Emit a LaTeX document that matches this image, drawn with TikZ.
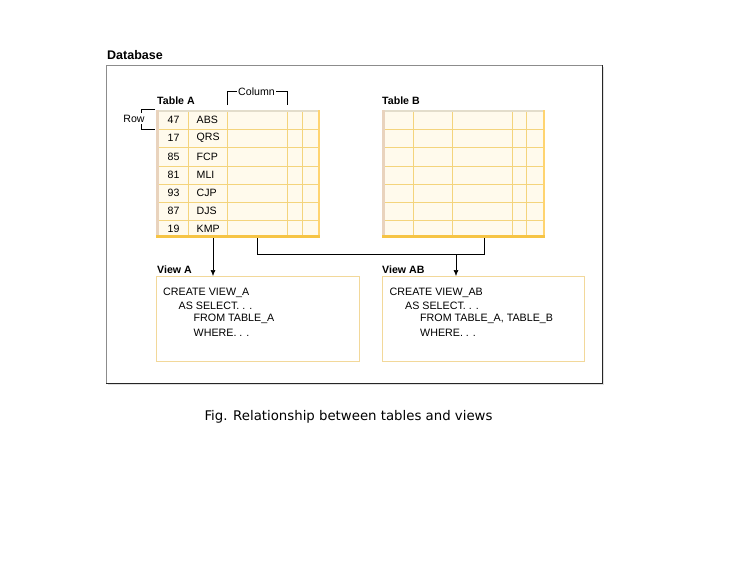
\documentclass[tikz,border=0pt]{standalone}
\usepackage{fontspec}
\setmainfont{Liberation Sans}
\newfontfamily\capfont{DejaVu Sans}
\usetikzlibrary{arrows.meta}
\definecolor{cream}{HTML}{FFFAEC}
\definecolor{gridc}{HTML}{F4D47C}
\definecolor{botc}{HTML}{F6C444}
\definecolor{rightc}{HTML}{FFD470}
\definecolor{leftc}{HTML}{E9D3BD}
\definecolor{topc}{HTML}{E3DDCB}
\definecolor{viewc}{HTML}{F2D89A}
\tikzset{
  lbl/.style={font=\fontsize{10.6}{12}\selectfont, inner sep=0pt},
  blbl/.style={font=\fontsize{10.6}{12}\selectfont\bfseries, inner sep=0pt, anchor=west},
  code/.style={font=\fontsize{10.7}{12}\selectfont, inner sep=0pt, anchor=west},
  gline/.style={gridc, line width=0.8pt},
  viewbox/.style={draw=viewc, line width=0.8pt, fill=white, anchor=north west, inner sep=0pt},
  tblbox/.style={anchor=north west, inner sep=0pt, minimum width=#1, minimum height=128},
  arr/.style={-{Latex[length=6pt,width=5pt]}, black, line width=0.6pt},
  conn/.style={black, line width=0.6pt}
}
\begin{document}
\begin{tikzpicture}[x=1pt,y=-1pt]
\useasboundingbox[fill=white] (0,0) rectangle (743,562);

% database frame
\fill[black!12] (108,67) rectangle (604,385);
\node[draw=black!45, fill=white, line width=0.8pt, anchor=north west, inner sep=0pt,
      minimum width=496, minimum height=318] (db) at (106,65) {};
\draw[black!85, line width=1pt] (db.north east) -- (db.south east) -- (db.south west);
\node[font=\fontsize{12.5}{14}\selectfont\bfseries, inner sep=0pt, anchor=west] (dbl) at (107,55) {Database};

% Table A
\node[tblbox=164, fill=cream] (tA) at (156,110) {};
\foreach \x in {188,227,287,302} \draw[gline] (\x,110) -- (\x,238);
\foreach \y in {129,147.5,166,184,202,220} \draw[gline] (156,\y) -- (320,\y);
\draw[topc, line width=2pt] (156,111) -- (320,111);
\draw[leftc, line width=2.5pt] (157.25,110) -- (157.25,238);
\draw[rightc, line width=2.5pt] (318.75,110) -- (318.75,238);
\draw[botc, line width=3pt] (156,236.5) -- (320,236.5);
\node[blbl] (tAl) at (157,101) {Table A};

\foreach \n/\s/\y in {47/ABS/119.5, 17/QRS/138.25, 85/FCP/156.75, 81/MLI/175, 93/CJP/193, 87/DJS/211, 19/KMP/229}{
  \node[lbl] at (173.5,\y) {\n};
  \node[lbl, anchor=west] at (196.5,\y) {\s};
}

% Column bracket
\node[lbl, inner xsep=1.5pt] (coll) at (256.5,91.5) {Column};
\draw[conn] (227,105) -- (227,91.5) -- (coll.west);
\draw[conn] (coll.east) -- (287,91.5) -- (287,105);

% Row bracket
\node[lbl] (rowl) at (134,118.5) {Row};
\draw[conn] (155,109.5) -- (141.5,109.5) -- (141.5,113);
\draw[conn] (141.5,124) -- (141.5,129.5) -- (155,129.5);

% Table B
\node[tblbox=163, fill=cream] (tB) at (382,110) {};
\foreach \x in {413,452,512,526} \draw[gline] (\x,110) -- (\x,238);
\foreach \y in {129,147.5,166,184,202,220} \draw[gline] (382,\y) -- (545,\y);
\draw[topc, line width=2pt] (382,111) -- (545,111);
\draw[leftc, line width=2.5pt] (383.25,110) -- (383.25,238);
\draw[rightc, line width=2.5pt] (543.75,110) -- (543.75,238);
\draw[botc, line width=3pt] (382,236.5) -- (545,236.5);
\node[blbl] (tBl) at (382,101) {Table B};

% Views
\node[viewbox, minimum width=203, minimum height=85] (vA) at (156,276) {};
\node[blbl] (vAl) at (157,270) {View A};
\node[code] at (163,292.7) {CREATE VIEW\_A};
\node[code] at (178.5,306) {AS SELECT. . .};
\node[code] at (193.5,319.3) {FROM TABLE\_A};
\node[code] at (193.5,332.7) {WHERE. . .};

\node[viewbox, minimum width=202, minimum height=85] (vAB) at (382,276) {};
\node[blbl] (vABl) at (382,270) {View AB};
\node[code] at (389.5,292.7) {CREATE VIEW\_AB};
\node[code] at (405,306) {AS SELECT. . .};
\node[code] at (420,319.3) {FROM TABLE\_A, TABLE\_B};
\node[code] at (420,332.7) {WHERE. . .};

% connectors
\coordinate (a1) at (213,238);
\coordinate (a2) at (257.5,238);
\coordinate (b2) at (484,238);
\coordinate (j) at (456,254);
\draw[arr] (a1) -- (vA.north -| a1);
\draw[conn] (a2) -- (a2 |- j) -- (b2 |- j) -- (b2);
\draw[arr] (j) -- (vAB.north -| j);

% caption
\node[font=\capfont\fontsize{13.3}{15}\selectfont, inner sep=0pt] (cap) at (348.5,417) {Fig. Relationship between tables and views};
\end{tikzpicture}
\end{document}
